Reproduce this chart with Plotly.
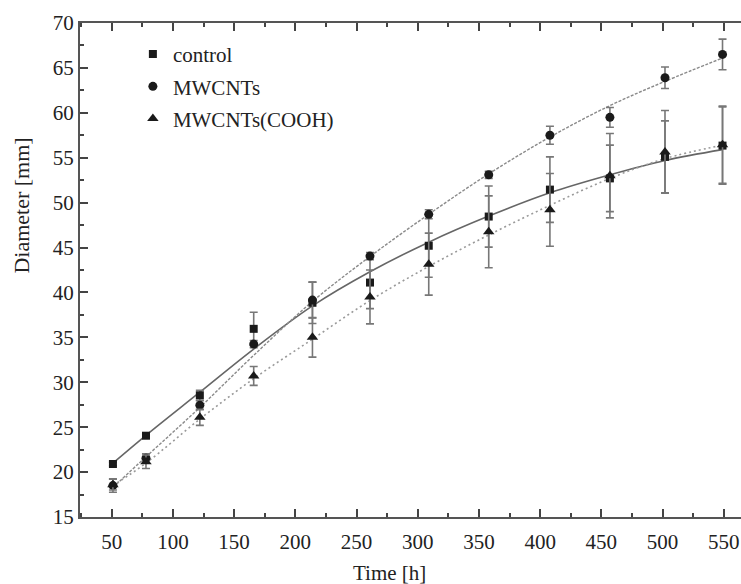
import plotly.graph_objects as go

# ---- data ----
time_h = [51, 78, 122, 166, 214, 261, 309, 358, 408, 457, 502, 549]

control = [20.9, 24.05, 28.55, 35.95, 38.85, 41.1, 45.2, 48.45, 51.45, 52.7, 55.1, 56.35]
control_err = [0.2, 0.2, 0.55, 1.85, 2.3, 2.9, 3.5, 3.4, 3.65, 3.7, 4.0, 4.3]

mwcnt = [18.5, 21.55, 27.45, 34.25, 39.15, 44.05, 48.7, 53.1, 57.5, 59.5, 63.9, 66.5]
mwcnt_err = [0.75, 0.5, 0.5, 0.4, 2.0, 0.4, 0.5, 0.4, 1.0, 1.1, 1.2, 1.7]

cooh = [18.6, 21.15, 26.1, 30.7, 35.0, 39.5, 43.15, 46.75, 49.2, 53.0, 55.65, 56.45]
cooh_err = [0.6, 0.75, 0.9, 1.05, 2.2, 3.0, 3.45, 4.0, 4.05, 4.7, 4.6, 4.3]

# fitted curves, read at the same times
control_fit = [21.0, 24.1, 28.9, 33.7, 38.5, 42.3, 45.6, 48.5, 51.1, 53.1, 54.7, 55.9]
mwcnt_fit = [18.3, 21.7, 27.2, 33.0, 39.0, 44.0, 48.7, 53.2, 57.3, 60.8, 63.5, 66.1]
cooh_fit = [18.5, 21.0, 25.9, 30.4, 34.8, 39.1, 42.9, 46.4, 49.7, 52.7, 54.9, 56.4]

series_names = ["control", "MWCNTs", "MWCNTs(COOH)"]
x_ticks = [50, 100, 150, 200, 250, 300, 350, 400, 450, 500, 550]
y_ticks = [15, 20, 25, 30, 35, 40, 45, 50, 55, 60, 65, 70]

FONT = "Liberation Serif"
fig = go.Figure()

# fit lines
fig.add_trace(go.Scatter(x=time_h, y=control_fit, mode="lines", line=dict(color="#666666", width=1.6, shape="spline"),
                         showlegend=False, hoverinfo="skip"))
fig.add_trace(go.Scatter(x=time_h, y=mwcnt_fit, mode="lines", line=dict(color="#8a8a8a", width=1.4, dash="3px,1.5px", shape="spline"),
                         showlegend=False, hoverinfo="skip"))
fig.add_trace(go.Scatter(x=time_h, y=cooh_fit, mode="lines", line=dict(color="#9a9a9a", width=1.6, dash="2px,3px", shape="spline"),
                         showlegend=False, hoverinfo="skip"))

err_style = dict(type="data", thickness=1.6, width=4, color="#777777")

fig.add_trace(go.Scatter(x=time_h, y=control, mode="markers", name=series_names[0], legendgroup="a",
                         marker=dict(symbol="square", size=8, color="#1a1a1a"),
                         error_y=dict(array=control_err, **err_style)))
fig.add_trace(go.Scatter(x=time_h, y=mwcnt, mode="markers", name=series_names[1], legendgroup="b",
                         marker=dict(symbol="circle", size=9, color="#1a1a1a"),
                         error_y=dict(array=mwcnt_err, **err_style)))
fig.add_trace(go.Scatter(x=time_h, y=cooh, mode="markers", name=series_names[2], legendgroup="c",
                         marker=dict(symbol="triangle-up", size=10, color="#1a1a1a"),
                         error_y=dict(array=cooh_err, **err_style)))

axis_common = dict(
    showgrid=False, zeroline=False, showline=True, linecolor="#555555", linewidth=2,
    ticks="inside", ticklen=8, tickwidth=2, tickcolor="#444444",
    tickfont=dict(family=FONT, size=21, color="#222222"), automargin=False,
)

fig.update_xaxes(range=[24.1, 564.1], tickvals=x_ticks, mirror="ticks", ticklabelstandoff=5,
                 minor=dict(ticks="inside", ticklen=4, tickwidth=2, tickcolor="#444444", dtick=25, tick0=25),
                 **axis_common)
fig.update_yaxes(range=[15, 70], tickvals=y_ticks, mirror=False, ticklabelstandoff=0,
                 minor=dict(ticks="inside", ticklen=4, tickwidth=2, tickcolor="#444444", dtick=2.5, tick0=15),
                 **axis_common)

fig.add_annotation(text="Diameter [mm]", xref="paper", yref="paper", x=-0.088, y=0.63,
                   textangle=-90, showarrow=False, font=dict(family=FONT, size=22, color="#222222"),
                   xanchor="center", yanchor="middle")
fig.add_annotation(text="Time [h]", xref="paper", yref="paper", x=0.4675, y=-0.113,
                   showarrow=False, font=dict(family=FONT, size=21, color="#222222"),
                   xanchor="center", yanchor="middle")

fig.update_layout(
    width=741, height=584,
    margin=dict(l=80, r=0, t=23, b=67),
    plot_bgcolor="white", paper_bgcolor="white",
    showlegend=True,
    legend=dict(x=0.08, y=0.978, xanchor="left", yanchor="top", bgcolor="rgba(0,0,0,0)",
                font=dict(family=FONT, size=21, color="#222222"), itemwidth=30, tracegroupgap=2),
)

fig.write_html("out.html")
